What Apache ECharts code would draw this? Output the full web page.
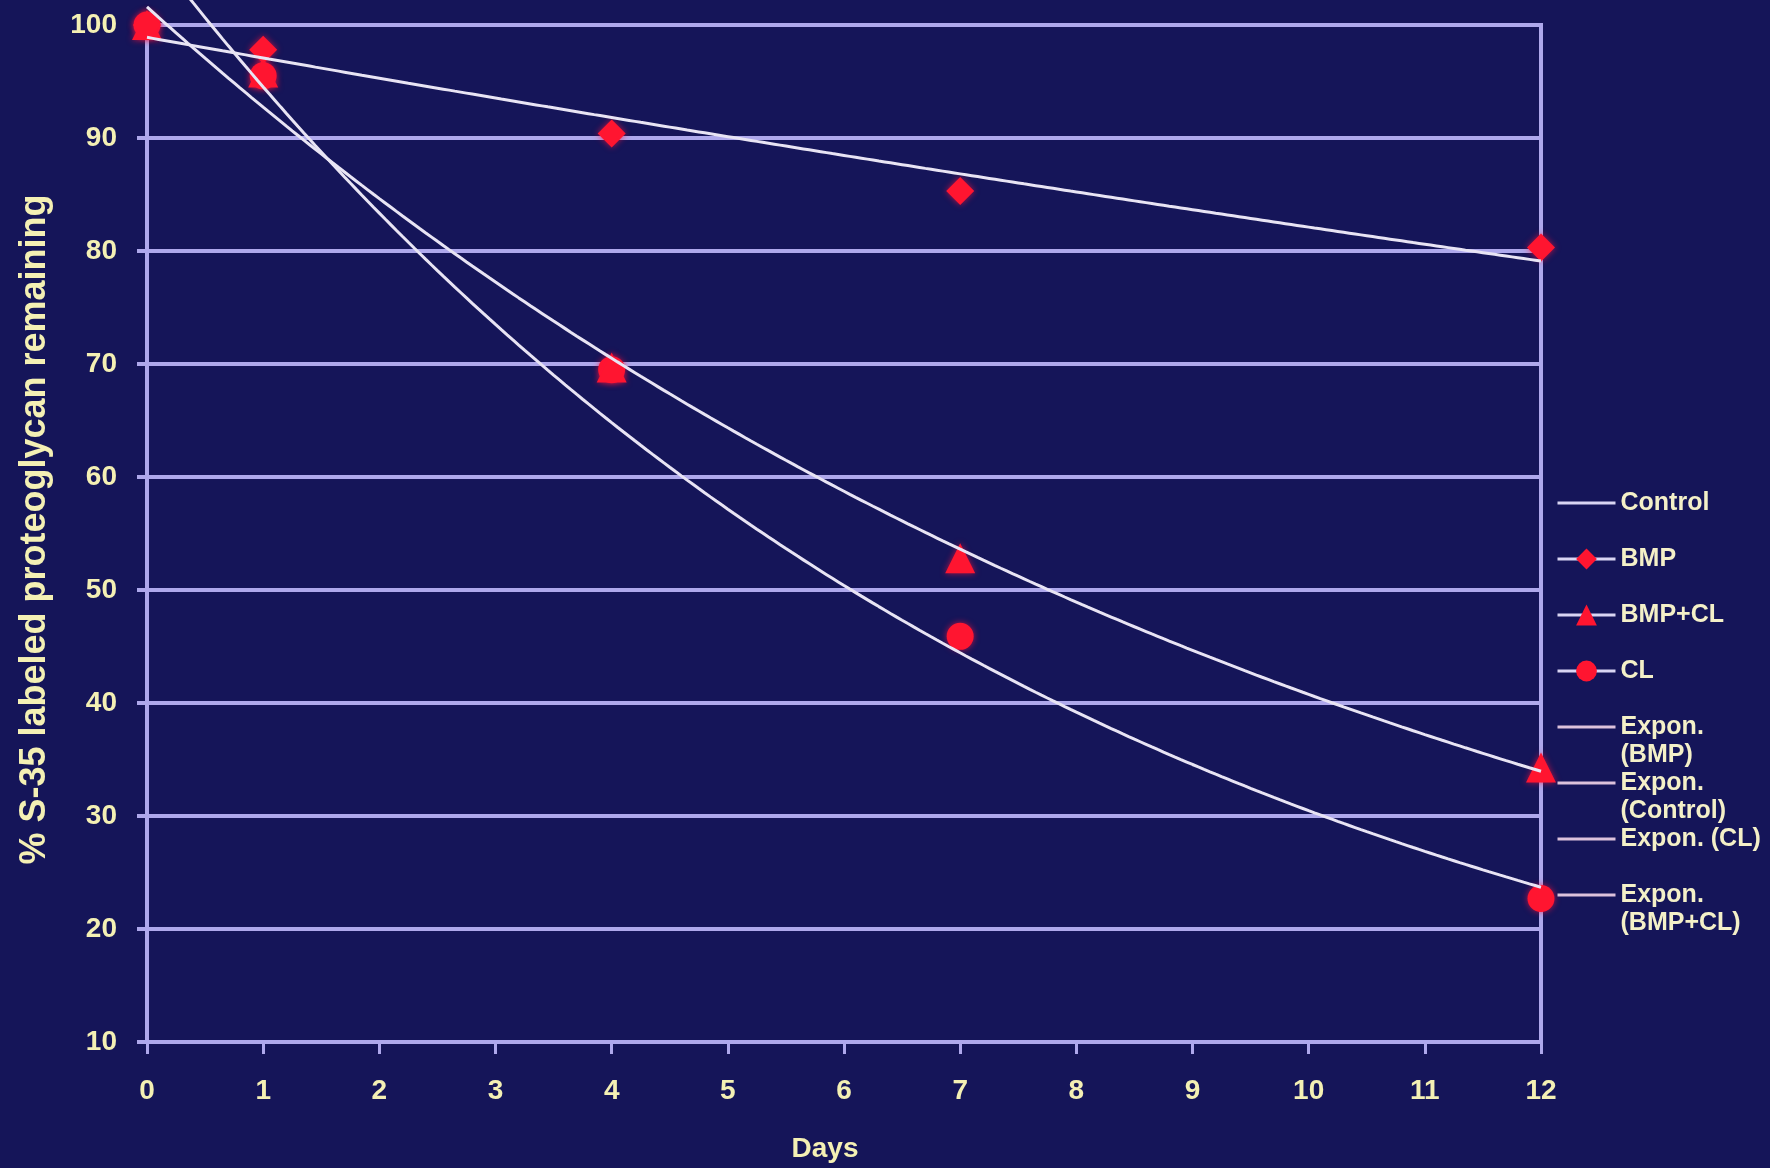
<!DOCTYPE html>
<html>
<head>
<meta charset="utf-8">
<script src="https://cdn.jsdelivr.net/npm/echarts@6/dist/echarts.min.js"></script>
<style>
  html, body { margin: 0; padding: 0; background: #151559; }
  #chart { width: 1770px; height: 1168px; }
</style>
</head>
<body>
<div id="chart"></div>
<script>
// Measured points: % of S-35 labeled proteoglycan remaining by day
const days = [0, 1, 4, 7, 12];
const bmp = [100, 97.8, 90.4, 85.3, 80.3];
const bmpCl = [100, 95.8, 69.7, 52.8, 34.3];
const cl = [100, 95.5, 69.5, 45.9, 22.7];

// Axis ranges and ticks
const xMin = 0, xMax = 12, xStep = 1;
const yMin = 10, yMax = 100, yStep = 10;

// Legend entries in display order, with their wrapped labels
const legendNames = ['Control', 'BMP', 'BMP+CL', 'CL',
  'Expon. (BMP)', 'Expon. (Control)', 'Expon. (CL)', 'Expon. (BMP+CL)'];
const legendLabels = {
  'Control': 'Control',
  'BMP': 'BMP',
  'BMP+CL': 'BMP+CL',
  'CL': 'CL',
  'Expon. (BMP)': 'Expon.\n(BMP)',
  'Expon. (Control)': 'Expon.\n(Control)',
  'Expon. (CL)': 'Expon. (CL)',
  'Expon. (BMP+CL)': 'Expon.\n(BMP+CL)'
};
const markerNames = ['BMP', 'BMP+CL', 'CL'];

const GRID = '#aea8ec';
const TEXT = '#f4f0b4';
const TREND = '#e8e4f4';
const RED = '#ff1530';
const FONT = '"Liberation Sans", Arial, sans-serif';

// Least-squares exponential trendline y = a * e^(b x), fitted on ln(y)
function expFit(xs, ys) {
  const n = xs.length;
  const ly = ys.map(Math.log);
  const mx = xs.reduce((s, v) => s + v, 0) / n;
  const my = ly.reduce((s, v) => s + v, 0) / n;
  let sxx = 0, sxy = 0;
  for (let i = 0; i < n; i++) {
    sxx += (xs[i] - mx) * (xs[i] - mx);
    sxy += (xs[i] - mx) * (ly[i] - my);
  }
  const b = sxy / sxx;
  return { a: Math.exp(my - b * mx), b: b };
}
function trendPoints(xs, ys) {
  const f = expFit(xs, ys);
  const pts = [];
  for (let i = 0; i <= 240; i++) {
    const x = xMin + (xMax - xMin) * i / 240;
    pts.push([x, f.a * Math.exp(f.b * x)]);
  }
  return pts;
}
const pairs = (xs, ys) => xs.map((x, i) => [x, ys[i]]);

function markerSeries(name, ys, symbol, size) {
  return {
    name: name, type: 'line', data: pairs(days, ys),
    symbol: symbol, symbolSize: size, showSymbol: true,
    lineStyle: { opacity: 0 },
    itemStyle: { color: RED, shadowColor: 'rgba(255,20,60,0.7)', shadowBlur: 6 },
    silent: true, z: 3
  };
}
// Trendlines run past the 100 line at the top-left, so they are not clipped
function trendSeries(name, data) {
  return {
    name: name, type: 'line', data: data, symbol: 'none', smooth: false,
    lineStyle: { color: TREND, width: 3 }, clip: false, silent: true, z: 4
  };
}

const legendLine = '#d9d5f3';
const legendExpon = '#dcc2dc';

const option = {
  backgroundColor: '#151559',
  animation: false,
  grid: {
    left: 147, right: 229, top: 25, bottom: 124,
    show: true, borderColor: GRID, borderWidth: 4, backgroundColor: 'transparent'
  },
  xAxis: {
    type: 'value', min: xMin, max: xMax, interval: xStep,
    axisLine: { show: true, lineStyle: { color: GRID, width: 4 } },
    axisTick: { show: true, length: 12, lineStyle: { color: GRID, width: 3 } },
    splitLine: { show: false },
    axisLabel: { color: TEXT, fontSize: 28, fontWeight: 'bold', fontFamily: FONT, margin: 35 },
    name: 'Days', nameLocation: 'middle', nameGap: 93,
    nameTextStyle: { color: TEXT, fontSize: 28, fontWeight: 'bold', fontFamily: FONT, padding: [0, 38, 0, 0] }
  },
  yAxis: {
    type: 'value', min: yMin, max: yMax, interval: yStep,
    axisLine: { show: true, lineStyle: { color: GRID, width: 4 } },
    axisTick: { show: true, length: 10, lineStyle: { color: GRID, width: 4 } },
    splitLine: { show: true, lineStyle: { color: GRID, width: 4 } },
    axisLabel: { color: TEXT, fontSize: 28, fontWeight: 'bold', fontFamily: FONT, margin: 30 },
    name: '% S-35 labeled proteoglycan remaining', nameLocation: 'middle', nameGap: 94,
    nameRotate: 90,
    nameTextStyle: { color: TEXT, fontSize: 36, fontWeight: 'bold', fontFamily: FONT, padding: [0, 0, 0, 8] }
  },
  legend: {
    orient: 'vertical', left: 1551, top: 456,
    itemWidth: 58, itemHeight: 26, itemGap: -28,
    selectedMode: false,
    textStyle: { color: '#f4f0c8', fontSize: 25, fontWeight: 'bold', fontFamily: FONT, lineHeight: 28 },
    formatter: function (name) {
      const label = legendLabels[name];
      return label.indexOf('\n') >= 0 ? '\n' + label : '\n' + label + '\n';
    },
    data: legendNames.map(function (n) {
      const isExpon = n.indexOf('Expon') === 0;
      const item = { name: n, lineStyle: { opacity: 1, width: 3, color: isExpon ? legendExpon : legendLine } };
      if (markerNames.indexOf(n) < 0) item.itemStyle = { opacity: 0 };
      return item;
    })
  },
  series: [
    { name: 'Control', type: 'line', data: [], symbol: 'none', lineStyle: { color: legendLine, width: 3 } },
    markerSeries('CL', cl, 'circle', 27),
    markerSeries('BMP+CL', bmpCl, 'triangle', 30),
    markerSeries('BMP', bmp, 'diamond', 28),
    trendSeries('Expon. (BMP)', trendPoints(days, bmp)),
    { name: 'Expon. (Control)', type: 'line', data: [], symbol: 'none', lineStyle: { color: TREND, width: 3 } },
    trendSeries('Expon. (CL)', trendPoints(days, cl)),
    trendSeries('Expon. (BMP+CL)', trendPoints(days, bmpCl))
  ]
};

const chart = echarts.init(document.getElementById('chart'), null, { renderer: 'canvas' });
chart.setOption(option);
</script>
</body>
</html>
